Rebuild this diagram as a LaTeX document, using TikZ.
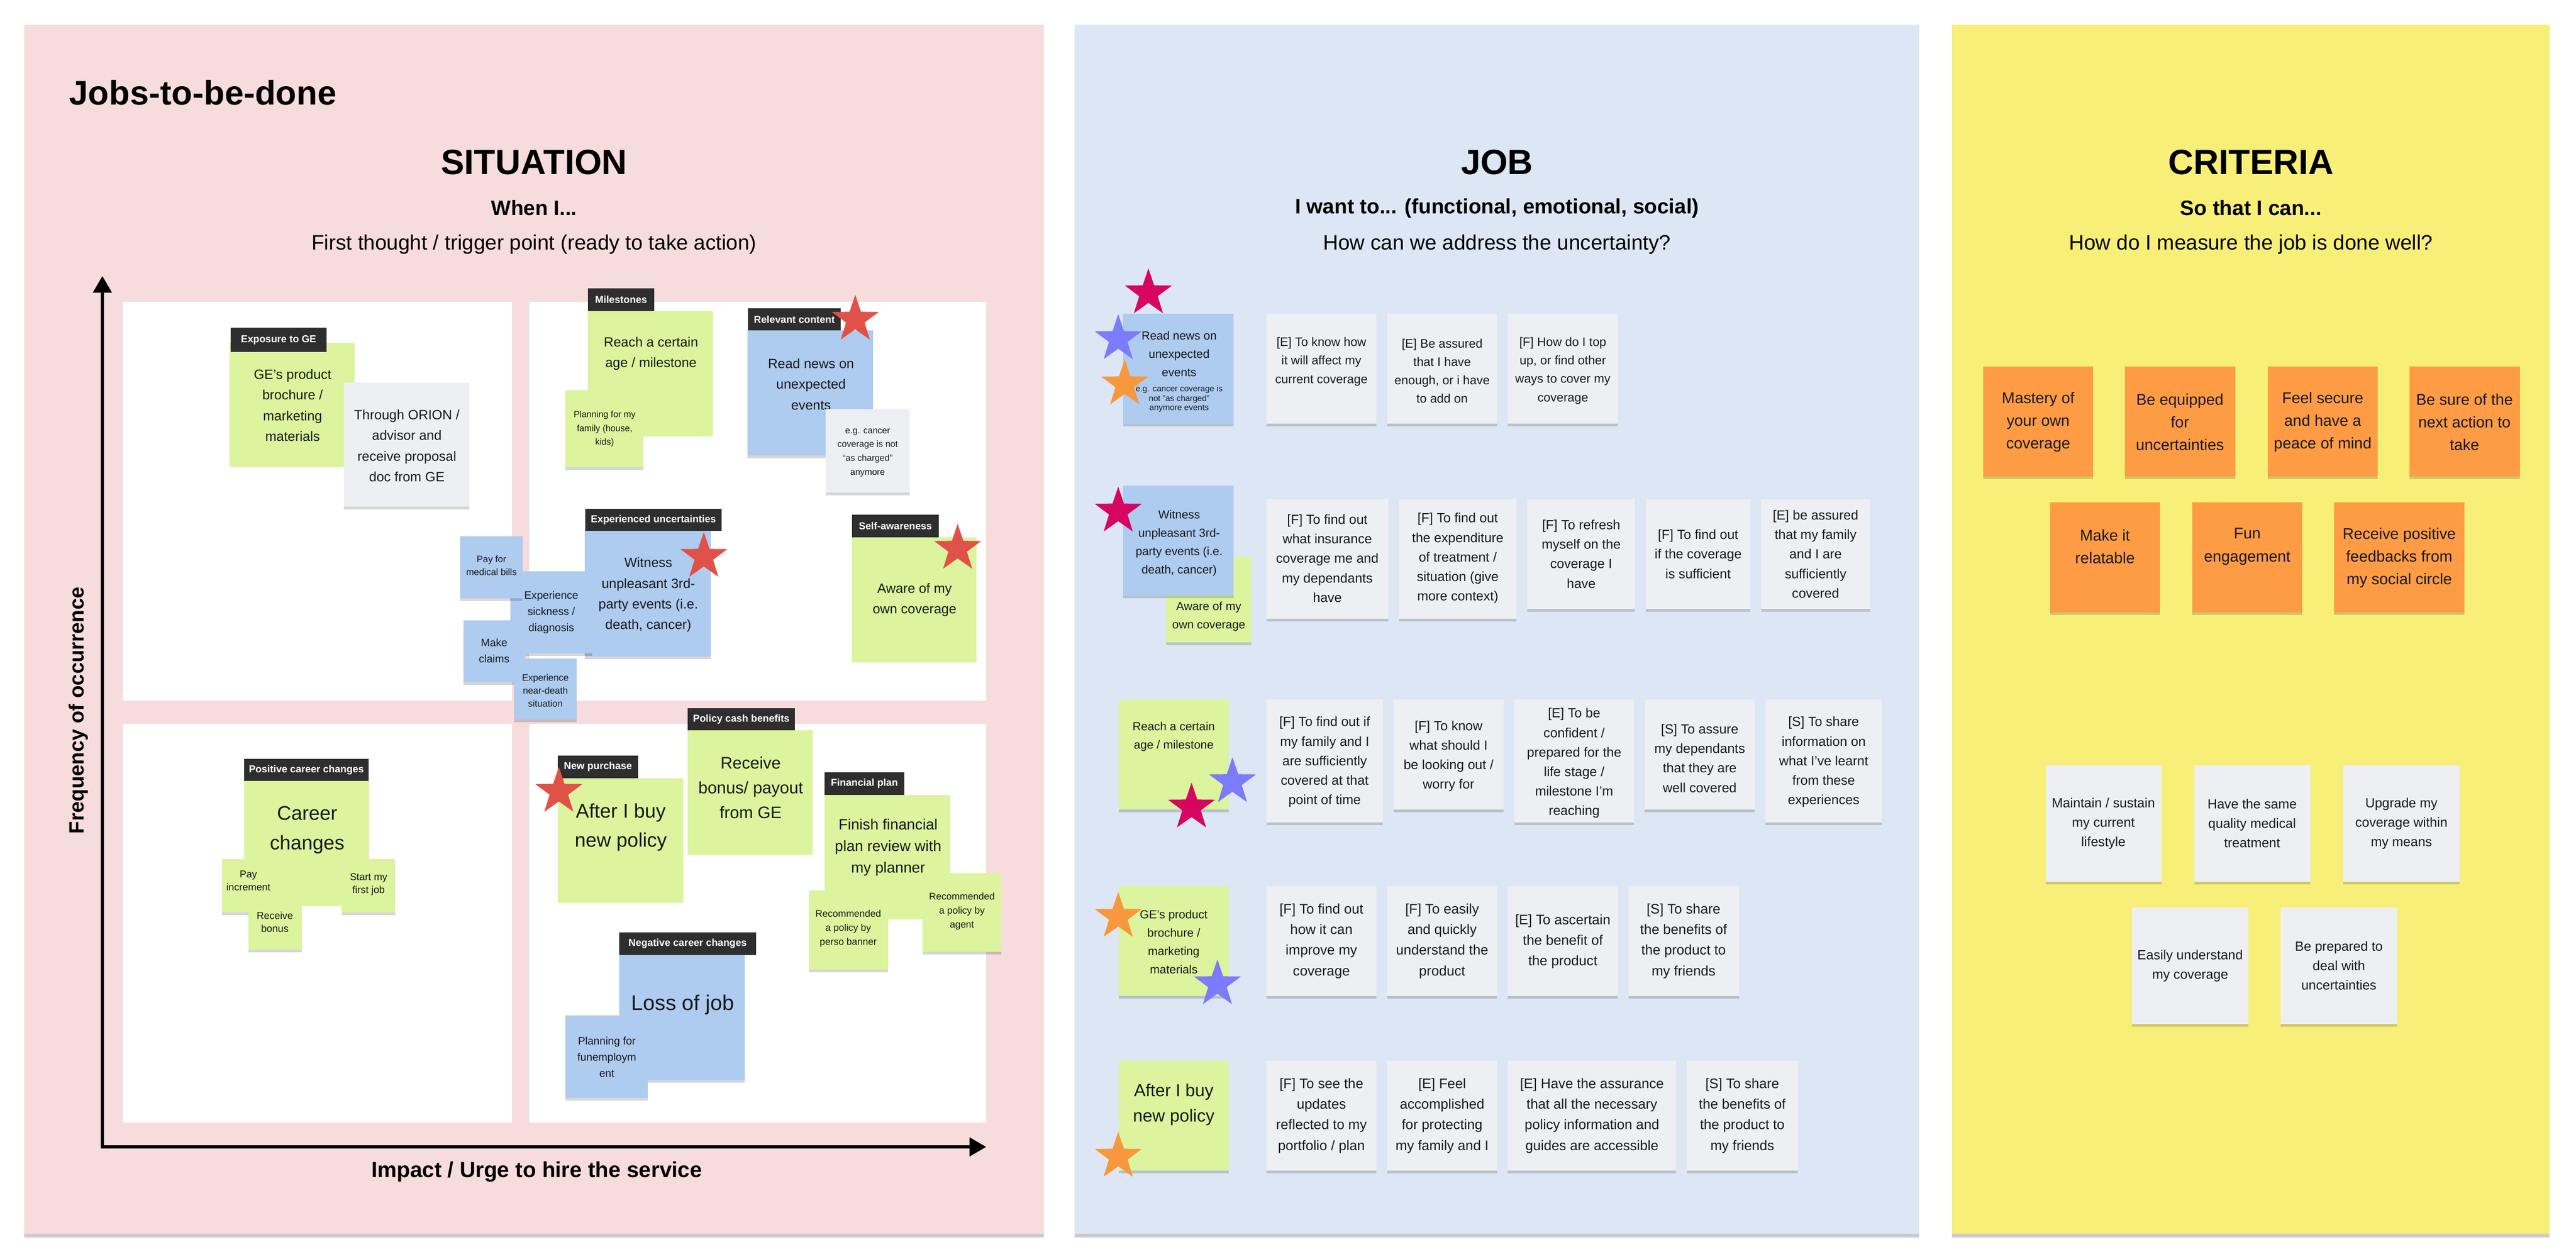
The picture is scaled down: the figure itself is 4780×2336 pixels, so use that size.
\documentclass[tikz,border=0pt]{standalone}
\usepackage{fontspec}
\setmainfont{Liberation Sans}
\usetikzlibrary{shapes.geometric,arrows.meta,shadows}
\definecolor{pinkbg}{HTML}{F7DCDD}
\definecolor{bluebg}{HTML}{DDE6F4}
\definecolor{yellowbg}{HTML}{F7EF78}
\definecolor{gnote}{HTML}{DBF49D}
\definecolor{bnote}{HTML}{AECBF0}
\definecolor{wnote}{HTML}{EEEFF3}
\definecolor{onote}{HTML}{FE9C46}
\definecolor{dlabel}{HTML}{2E2E2E}
\definecolor{starred}{HTML}{E05248}
\definecolor{starmag}{HTML}{D6055F}
\definecolor{starvio}{HTML}{7B7BFB}
\definecolor{starora}{HTML}{F7983D}
\newcommand\fs[2]{\fontsize{#1}{#2}\selectfont}
\newcommand\stk[6]{\node[#2, minimum width={(#5-#3)*0.01cm}, minimum height={(#6-#4)*0.01cm}] (#1) at ({(#3+#5)/2},{(#4+#6)/2}) {};}
\newcommand\stx[5]{\node[stxt, #2] (#1) at (#3,#4) {#5};}
\newcommand\lab[6]{\node[labbox, minimum width={(#4-#2)*0.01cm}, minimum height={(#5-#3)*0.01cm}] (#1) at ({(#2+#4)/2},{(#3+#5)/2}) {#6};}
\newcommand\mystar[4]{\node[starshape, fill=#2] (#1) at (#3,#4) {};}
\tikzset{
  stkbase/.style={draw=none, inner sep=0pt, outer sep=0pt, rectangle},
  softshadow/.style={drop shadow={shadow xshift=0pt, shadow yshift=-1.3pt, fill=black, opacity=0.16}},
  notegreen/.style={stkbase, fill=gnote},
  notegreens/.style={stkbase, fill=gnote, softshadow},
  noteblue/.style={stkbase, fill=bnote, softshadow},
  notewhite/.style={stkbase, fill=wnote, softshadow},
  noteorange/.style={stkbase, fill=onote, softshadow},
  panel/.style={stkbase, drop shadow={shadow xshift=0pt, shadow yshift=-2.2pt, fill=black, opacity=0.2}},
  quad/.style={stkbase, fill=white},
  labbox/.style={stkbase, fill=dlabel, text=white, font=\bfseries\fs{5.3}{6}},
  stxt/.style={align=center, inner sep=0pt, text=black!90},
  starshape/.style={star, star points=5, star point ratio=2.55, draw=none, minimum size=0.92cm, inner sep=0pt},
  st71/.style={font=\fs{7.1}{10.9}},
  st104/.style={font=\fs{10.4}{15.4}},
  st88/.style={font=\fs{8.8}{13.1}},
  st79/.style={font=\fs{7.9}{11.4}},
  st112/.style={font=\fs{11.2}{13}},
  st50/.style={font=\fs{4.9}{6.8}},
  st48/.style={font=\fs{4.7}{7.3}},
  st57/.style={font=\fs{5.7}{8.5}},
  st53/.style={font=\fs{5.3}{6.8}},
  st51/.style={font=\fs{5.1}{7.4}},
  jt62/.style={font=\fs{6.2}{9.7}},
  jt44/.style={font=\fs{4.4}{5.1}},
  jt65/.style={font=\fs{6.5}{9.7}},
  jt70/.style={font=\fs{7}{10.3}},
  jt73/.style={font=\fs{7.3}{10.9}},
  jt92/.style={font=\fs{9.2}{13.4}},
  ct82/.style={font=\fs{8.2}{12}},
  ct70/.style={font=\fs{7}{10.2}},
  htitle/.style={font=\bfseries\fs{18.5}{22}},
  hsub/.style={font=\bfseries\fs{11}{13}},
  hq/.style={font=\fs{11}{13}},
  axis/.style={line width=0.06cm, draw=black, {Triangle[length=0.31cm, width=0.34cm]}-{Triangle[length=0.31cm, width=0.34cm]}}
}
\begin{document}
\begin{tikzpicture}[x=0.01cm, y=-0.01cm]
\useasboundingbox (0,0) rectangle (4780,2336);
\fill[white] (0,0) rectangle (4780,2336);
% panels
\node[panel, fill=pinkbg, minimum width=18.90cm, minimum height=22.41cm] (psit) at (991,1167.5) {};
\node[panel, fill=bluebg, minimum width=15.67cm, minimum height=22.41cm] (pjob) at (2777.5,1167.5) {};
\node[panel, fill=yellowbg, minimum width=11.09cm, minimum height=22.41cm] (pcrit) at (4176.5,1167.5) {};
% headers
\node[font=\bfseries\fs{18}{22}, anchor=west, inner sep=0] (jtbd) at (128,172) {Jobs-to-be-done};
\node[htitle] (hsit) at (991,301) {SITUATION};
\node[hsub] (hsit2) at (991,386) {When I...};
\node[hq] (hsit3) at (991,453) {First thought / trigger point (ready to take action)};
\node[htitle] (hjob) at (2778,301) {JOB};
\node[hsub] (hjob2) at (2778,386) {I want to... (functional, emotional, social)};
\node[hq] (hjob3) at (2778,453) {How can we address the uncertainty?};
\node[htitle] (hcrit) at (4177,301) {CRITERIA};
\node[hsub] (hcrit2) at (4177,386) {So that I can...};
\node[hq] (hcrit3) at (4177,453) {How do I measure the job is done well?};
% quadrants
\stk{qtl}{quad}{228}{560}{950}{1300}
\stk{qtr}{quad}{982}{560}{1830}{1300}
\stk{qbl}{quad}{228}{1343}{950}{2083}
\stk{qbr}{quad}{982}{1343}{1830}{2083}
% axes
\coordinate (ytop) at (190,512);
\coordinate (origin) at (190,2128);
\coordinate (xend) at (1830,2128);
\draw[axis] (ytop) -- (origin) -- (xend);
\node[rotate=90, font=\bfseries\fs{10.9}{13}, inner sep=0] (ylab) at (146,1318) {Frequency of occurrence};
\node[font=\bfseries\fs{11.5}{14}, inner sep=0] (xlab) at (996,2174) {Impact / Urge to hire the service};
% ---- top-left quadrant
\stk{sgeb}{notegreen}{426}{636}{658}{867}
\lab{lexp}{428}{608}{606}{653}{Exposure to GE}
\stk{sorion}{notewhite}{638}{710}{871}{940}
\stx{tgeb}{st71}{543}{752}{GE’s product\\brochure /\\marketing\\materials}
\stx{torion}{st71}{755}{827}{Through ORION /\\advisor and\\receive proposal\\doc from GE}
% ---- top-right quadrant
\stk{sreach}{notegreen}{1091}{577}{1323}{810}
\lab{lmile}{1091}{535}{1214}{577}{Milestones}
\stx{treach}{st71}{1208}{656}{Reach a certain\\age / milestone}
\stk{splanfam}{notegreens}{1049}{724}{1194}{867}
\stx{tplanfam}{st48}{1122}{796}{Planning for my\\family (house,\\kids)}
\stk{sreadnews}{noteblue}{1387}{613}{1620}{845}
\lab{lrel}{1388}{572}{1560}{613}{Relevant content}
\stx{treadnews}{st71}{1505}{713}{Read news on\\unexpected\\events}
\stk{segcancer}{notewhite}{1532}{759}{1688}{914}
\stx{tegcancer}{st48}{1610}{840}{e.g. cancer\\coverage is not\\“as charged”\\anymore}
\mystar{starrel}{starred}{1587}{593}
\stk{switness}{noteblue}{1085}{985}{1319}{1218}
\lab{lexpu}{1086}{944}{1339}{985}{Experienced uncertainties}
\stx{twitness}{st71}{1203}{1104}{Witness\\unpleasant 3rd-\\party events (i.e.\\death, cancer)}
\mystar{starwit}{starred}{1306}{1033}
\stk{saware}{notegreen}{1581}{997}{1812}{1229}
\lab{lself}{1581}{955}{1742}{997}{Self-awareness}
\stx{taware}{st71}{1697}{1113}{Aware of my\\own coverage}
\mystar{staraware}{starred}{1777}{1018}
% blue cluster
\stk{ssick}{noteblue}{947}{1060}{1099}{1212}
\stx{tsick}{st57}{1023}{1136}{Experience\\sickness /\\diagnosis}
\stk{spay}{noteblue}{854}{995}{970}{1110}
\stx{tpay}{st50}{912}{1049}{Pay for\\medical bills}
\stk{sclaims}{noteblue}{860}{1151}{975}{1266}
\stx{tclaims}{st57}{917}{1207}{Make\\claims}
\stk{snear}{noteblue}{954}{1222}{1070}{1335}
\stx{tnear}{st50}{1012}{1281}{Experience\\near-death\\situation}
% ---- bottom-left quadrant
\stk{scareer}{notegreen}{453}{1449}{685}{1681}
\lab{lpos}{453}{1408}{684}{1449}{Positive career changes}
\stx{tcareer}{st104}{570}{1540}{Career\\changes}
\stk{spayinc}{notegreens}{412}{1594}{511}{1693}
\stx{tpayinc}{st53}{461}{1634}{Pay\\increment}
\stk{sbonus}{notegreens}{461}{1663}{560}{1762}
\stx{tbonus}{st53}{510}{1711}{Receive\\bonus}
\stk{sfirst}{notegreens}{634}{1594}{733}{1693}
\stx{tfirst}{st53}{684}{1641}{Start my\\first job}
% ---- bottom-right quadrant
\stk{sreceive}{notegreen}{1276}{1355}{1508}{1586}
\lab{lcash}{1276}{1314}{1475}{1355}{Policy cash benefits}
\stx{treceive}{st88}{1393}{1461}{Receive\\bonus/ payout\\from GE}
\stk{safter}{notegreen}{1035}{1444}{1268}{1675}
\lab{lnew}{1035}{1402}{1184}{1444}{New purchase}
\stx{tafter}{st104}{1152}{1535}{After I buy\\new policy}
\mystar{starafter}{starred}{1037}{1469}
\stk{sfinish}{notegreen}{1530}{1475}{1763}{1706}
\lab{lfin}{1530}{1433}{1678}{1475}{Financial plan}
\stx{tfinish}{st79}{1648}{1572}{Finish financial\\plan review with\\my planner}
\stk{srecbank}{notegreens}{1501}{1652}{1648}{1799}
\stx{trecbank}{st51}{1574}{1723}{Recommended\\a policy by\\perso banner}
\stk{srecagent}{notegreens}{1712}{1620}{1858}{1766}
\stx{trecagent}{st51}{1785}{1691}{Recommended\\a policy by\\agent}
\stk{sloss}{noteblue}{1149}{1772}{1382}{2004}
\lab{lneg}{1149}{1730}{1403}{1772}{Negative career changes}
\stx{tloss}{st112}{1267}{1864}{Loss of job}
\stk{sfun}{noteblue}{1049}{1884}{1202}{2037}
\stx{tfun}{st57}{1126}{1961}{Planning for\\funemploym\\ent}
% ================= JOB panel
% row 1
\stk{jr1}{noteblue}{2084}{582}{2289}{786}
\stx{tjr1}{jt62}{2188}{657}{Read news on\\unexpected\\events}
\stx{tjr1s}{jt44}{2188}{740}{e.g. cancer coverage is\\not "as charged"\\anymore events}
\mystar{sj1a}{starmag}{2131}{544}
\mystar{sj1b}{starvio}{2075}{629}
\mystar{sj1c}{starora}{2087}{713}
\stk{j1c1}{notewhite}{2350}{582}{2554}{786}
\stx{tj1c1}{jt65}{2452}{671}{[E] To know how\\it will affect my\\current coverage}
\stk{j1c2}{notewhite}{2574}{582}{2778}{786}
\stx{tj1c2}{jt65}{2676}{688}{[E] Be assured\\that I have\\enough, or i have\\to add on}
\stk{j1c3}{notewhite}{2798}{582}{3002}{786}
\stx{tj1c3}{jt65}{2900}{688}{[F] How do I top\\up, or find other\\ways to cover my\\coverage}
% row 2
\stk{jr2g}{notegreens}{2164}{1033}{2322}{1192}
\stx{tjr2g}{jt62}{2243}{1144}{Aware of my\\own coverage}
\stk{jr2}{noteblue}{2084}{901}{2289}{1105}
\stx{tjr2}{jt62}{2188}{1008}{Witness\\unpleasant 3rd-\\party events (i.e.\\death, cancer)}
\mystar{sj2a}{starmag}{2075}{949}
\stk{j2c1}{notewhite}{2350}{926}{2576}{1148}
\stx{tj2c1}{jt70}{2463}{1036}{[F] To find out\\what insurance\\coverage me and\\my dependants\\have}
\stk{j2c2}{notewhite}{2596}{926}{2814}{1148}
\stx{tj2c2}{jt70}{2705}{1036}{[F] To find out\\the expenditure\\of treatment /\\situation (give\\more context)}
\stk{j2c3}{notewhite}{2834}{926}{3034}{1130}
\stx{tj2c3}{jt70}{2934}{1028}{[F] To refresh\\myself on the\\coverage I\\have}
\stk{j2c4}{notewhite}{3054}{926}{3248}{1130}
\stx{tj2c4}{jt70}{3151}{1028}{[F] To find out\\if the coverage\\is sufficient}
\stk{j2c5}{notewhite}{3268}{926}{3470}{1130}
\stx{tj2c5}{jt70}{3369}{1028}{[E] be assured\\that my family\\and I are\\sufficiently\\covered}
% row 3
\stk{jr3}{notegreens}{2076}{1298}{2280}{1502}
\stx{tjr3}{jt62}{2178}{1367}{Reach a certain\\age / milestone}
\mystar{sj3b}{starvio}{2287}{1451}
\mystar{sj3a}{starmag}{2211}{1498}
\stk{j3c1}{notewhite}{2350}{1298}{2566}{1526}
\stx{tj3c1}{jt70}{2458}{1414}{[F] To find out if\\my family and I\\are sufficiently\\covered at that\\point of time}
\stk{j3c2}{notewhite}{2586}{1298}{2790}{1502}
\stx{tj3c2}{jt70}{2688}{1403}{[F] To know\\what should I\\be looking out /\\worry for}
\stk{j3c3}{notewhite}{2810}{1298}{3032}{1526}
\stx{tj3c3}{jt70}{2921}{1416}{[E] To be\\confident /\\prepared for the\\life stage /\\milestone I'm\\reaching}
\stk{j3c4}{notewhite}{3052}{1298}{3256}{1502}
\stx{tj3c4}{jt70}{3154}{1407}{[S] To assure\\my dependants\\that they are\\well covered}
\stk{j3c5}{notewhite}{3276}{1298}{3492}{1526}
\stx{tj3c5}{jt70}{3384}{1414}{[S] To share\\information on\\what I've learnt\\from these\\experiences}
% row 4
\stk{jr4}{notegreens}{2076}{1644}{2280}{1848}
\stx{tjr4}{jt62}{2178}{1748}{GE’s product\\brochure /\\marketing\\materials}
\mystar{sj4a}{starora}{2075}{1701}
\mystar{sj4b}{starvio}{2259}{1826}
\stk{j4c1}{notewhite}{2350}{1644}{2554}{1848}
\stx{tj4c1}{jt73}{2452}{1746}{[F] To find out\\how it can\\improve my\\coverage}
\stk{j4c2}{notewhite}{2574}{1644}{2778}{1848}
\stx{tj4c2}{jt73}{2676}{1746}{[F] To easily\\and quickly\\understand the\\product}
\stk{j4c3}{notewhite}{2798}{1644}{3002}{1848}
\stx{tj4c3}{jt73}{2900}{1747}{[E] To ascertain\\the benefit of\\the product}
\stk{j4c4}{notewhite}{3022}{1644}{3227}{1848}
\stx{tj4c4}{jt73}{3124}{1746}{[S] To share\\the benefits of\\the product to\\my friends}
% row 5
\stk{jr5}{notegreens}{2076}{1968}{2280}{2172}
\stx{tjr5}{jt92}{2178}{2050}{After I buy\\new policy}
\mystar{sj5a}{starora}{2075}{2146}
\stk{j5c1}{notewhite}{2350}{1968}{2554}{2172}
\stx{tj5c1}{jt73}{2452}{2070}{[F] To see the\\updates\\reflected to my\\portfolio / plan}
\stk{j5c2}{notewhite}{2574}{1968}{2778}{2172}
\stx{tj5c2}{jt73}{2676}{2070}{[E] Feel\\accomplished\\for protecting\\my family and I}
\stk{j5c3}{notewhite}{2798}{1968}{3110}{2172}
\stx{tj5c3}{jt73}{2954}{2070}{[E] Have the assurance\\that all the necessary\\policy information and\\guides are accessible}
\stk{j5c4}{notewhite}{3130}{1968}{3336}{2172}
\stx{tj5c4}{jt73}{3233}{2070}{[S] To share\\the benefits of\\the product to\\my friends}
% ================= CRITERIA panel
\stk{o1}{noteorange}{3680}{680}{3884}{884}
\stx{to1}{ct82}{3782}{783}{Mastery of\\your own\\coverage}
\stk{o2}{noteorange}{3943}{680}{4148}{884}
\stx{to2}{ct82}{4045}{783}{Be equipped\\for\\uncertainties}
\stk{o3}{noteorange}{4208}{680}{4412}{884}
\stx{to3}{ct82}{4310}{783}{Feel secure\\and have a\\peace of mind}
\stk{o4}{noteorange}{4471}{680}{4676}{884}
\stx{to4}{ct82}{4573}{783}{Be sure of the\\next action to\\take}
\stk{o5}{noteorange}{3804}{932}{4008}{1136}
\stx{to5}{ct82}{3906}{1014}{Make it\\relatable}
\stk{o6}{noteorange}{4068}{932}{4272}{1136}
\stx{to6}{ct82}{4170}{1014}{Fun\\engagement}
\stk{o7}{noteorange}{4331}{932}{4573}{1136}
\stx{to7}{ct82}{4452}{1035}{Receive positive\\feedbacks from\\my social circle}
\stk{g1}{notewhite}{3796}{1420}{4011}{1636}
\stx{tg1}{ct70}{3903}{1528}{Maintain / sustain\\my current\\lifestyle}
\stk{g2}{notewhite}{4072}{1420}{4287}{1636}
\stx{tg2}{ct70}{4179}{1528}{Have the same\\quality medical\\treatment}
\stk{g3}{notewhite}{4348}{1420}{4564}{1636}
\stx{tg3}{ct70}{4456}{1528}{Upgrade my\\coverage within\\my means}
\stk{g4}{notewhite}{3956}{1684}{4172}{1900}
\stx{tg4}{ct70}{4064}{1792}{Easily understand\\my coverage}
\stk{g5}{notewhite}{4232}{1684}{4448}{1900}
\stx{tg5}{ct70}{4340}{1792}{Be prepared to\\deal with\\uncertainties}
\end{tikzpicture}
\end{document}
